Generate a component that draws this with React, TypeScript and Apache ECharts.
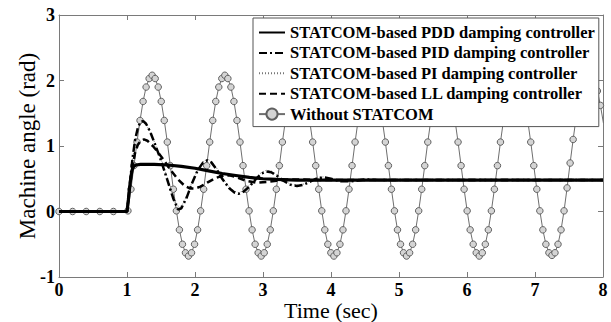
import React, { useEffect, useRef } from "react";
import * as echarts from "echarts";

const FONT = "Liberation Serif";

const seriesNames = [
  "STATCOM-based PDD damping controller",
  "STATCOM-based PID damping controller",
  "STATCOM-based PI damping controller",
  "STATCOM-based LL damping controller",
  "Without STATCOM",
];

const xTicks = [0, 1, 2, 3, 4, 5, 6, 7, 8];
const yTicks = [-1, 0, 1, 2, 3];

// PDD controller
const pddT = [0, 1.0, 1.02, 1.04, 1.06, 1.08, 1.1, 1.13, 1.2, 1.4, 1.6, 1.8, 2.0, 2.2, 2.4, 2.6, 2.8, 3.0, 3.2, 3.5, 4.0, 5.0, 6.0, 7.0, 8.0];
const pddV = [0, 0, 0.18, 0.38, 0.55, 0.65, 0.69, 0.71, 0.72, 0.72, 0.71, 0.69, 0.66, 0.62, 0.58, 0.55, 0.52, 0.5, 0.49, 0.48, 0.48, 0.48, 0.48, 0.48, 0.48];

// PID and PI controllers (same sample times)
const pidT = [0, 1.0, 1.04, 1.08, 1.12, 1.16, 1.2, 1.24, 1.28, 1.34, 1.4, 1.5, 1.6, 1.68, 1.75, 1.8, 1.88, 1.96, 2.04, 2.12, 2.18, 2.24, 2.32, 2.4, 2.5, 2.58, 2.64, 2.7, 2.8, 2.9, 2.98, 3.05, 3.12, 3.2, 3.3, 3.4, 3.5, 3.6, 3.7, 3.8, 3.9, 4.0, 4.15, 4.3, 4.5, 4.7, 5.0, 8.0];
const pidV = [0, 0, 0.4, 0.8, 1.1, 1.28, 1.37, 1.38, 1.34, 1.22, 1.06, 0.78, 0.46, 0.2, 0.03, 0.05, 0.22, 0.44, 0.63, 0.75, 0.78, 0.75, 0.64, 0.5, 0.36, 0.29, 0.27, 0.29, 0.38, 0.5, 0.58, 0.61, 0.6, 0.55, 0.47, 0.41, 0.39, 0.41, 0.46, 0.51, 0.52, 0.5, 0.46, 0.46, 0.49, 0.48, 0.48, 0.48];
const piV = [0, 0, 0.38, 0.78, 1.08, 1.26, 1.35, 1.37, 1.33, 1.22, 1.07, 0.8, 0.5, 0.25, 0.08, 0.08, 0.24, 0.46, 0.64, 0.76, 0.8, 0.77, 0.66, 0.52, 0.38, 0.31, 0.29, 0.31, 0.4, 0.52, 0.6, 0.63, 0.62, 0.56, 0.48, 0.42, 0.4, 0.42, 0.47, 0.52, 0.53, 0.5, 0.46, 0.47, 0.49, 0.48, 0.48, 0.48];

// LL controller
const llT = [0, 1.0, 1.04, 1.08, 1.12, 1.16, 1.2, 1.25, 1.3, 1.38, 1.46, 1.55, 1.65, 1.75, 1.85, 1.93, 2.0, 2.08, 2.18, 2.3, 2.42, 2.52, 2.62, 2.75, 2.9, 3.05, 3.2, 3.4, 3.6, 3.8, 4.0, 8.0];
const llV = [0, 0, 0.35, 0.68, 0.9, 1.02, 1.08, 1.1, 1.08, 1.0, 0.9, 0.77, 0.62, 0.49, 0.39, 0.35, 0.35, 0.38, 0.44, 0.51, 0.55, 0.55, 0.52, 0.47, 0.44, 0.45, 0.47, 0.49, 0.49, 0.48, 0.48, 0.48];

// Without STATCOM: pre-fault samples, then samples every 0.04454 s from t = 1.0136
const woPreT = [0, 0.2, 0.4, 0.6, 0.8];
const woPreV = [0, 0, 0, 0, 0];
const woStart = 1.0136;
const woStep = 0.04454;
const woV = [
  0.01, 0.34, 0.70, 1.06, 1.39, 1.68, 1.90, 2.03,
  2.08, 2.03, 1.90, 1.68, 1.39, 1.06, 0.70, 0.34, 0.01, -0.28, -0.50, -0.63, -0.68, -0.63, -0.50, -0.28, 0.01, 0.34, 0.70, 1.06, 1.39, 1.68, 1.90, 2.03,
  2.08, 2.03, 1.90, 1.68, 1.39, 1.06, 0.70, 0.34, 0.01, -0.28, -0.50, -0.63, -0.68, -0.63, -0.50, -0.28, 0.01, 0.34, 0.70, 1.06, 1.39, 1.68, 1.90, 2.03,
  2.08, 2.03, 1.90, 1.68, 1.39, 1.06, 0.70, 0.34, 0.01, -0.28, -0.50, -0.63, -0.68, -0.63, -0.50, -0.28, 0.01, 0.34, 0.70, 1.06, 1.39, 1.68, 1.90, 2.03,
  2.08, 2.03, 1.90, 1.68, 1.39, 1.06, 0.70, 0.34, 0.01, -0.28, -0.50, -0.63, -0.68, -0.63, -0.50, -0.28, 0.01, 0.34, 0.70, 1.06, 1.39, 1.68, 1.90, 2.03,
  2.08, 2.03, 1.90, 1.68, 1.39, 1.06, 0.70, 0.34, 0.01, -0.28, -0.50, -0.63, -0.68, -0.63, -0.50, -0.28, 0.01, 0.34, 0.70, 1.06, 1.39, 1.68, 1.90, 2.03,
  2.08, 2.03, 1.90, 1.68, 1.39, 1.06, 0.70, 0.34, 0.01, -0.28, -0.50, -0.63, -0.67, -0.63, -0.50, -0.28, 0.01, 0.36, 0.74, 1.10, 1.44, 1.72, 1.93, 2.05,
  2.08, 2.05, 1.95, 1.84, 1.62, 1.35,
];

const zip = (t: number[], v: number[]) => t.map((x, i) => [x, v[i]]);

const AXIS_COLOR = "#7a7a7a";

function buildOption() {
  const woData = [
    ...zip(woPreT, woPreV),
    ...woV.map((v, i) => [woStart + i * woStep, v]),
  ];
  const tick = { show: true, inside: true, length: 5, lineStyle: { color: AXIS_COLOR } };
  const line = { show: true, onZero: false, lineStyle: { color: AXIS_COLOR, width: 1 } };
  const axisCommonX = {
    type: "value" as const,
    min: xTicks[0],
    max: xTicks[xTicks.length - 1],
    interval: 1,
    splitLine: { show: false },
    axisLine: line,
    axisTick: tick,
  };
  const axisCommonY = {
    type: "value" as const,
    min: yTicks[0],
    max: yTicks[yTicks.length - 1],
    interval: 1,
    splitLine: { show: false },
    axisLine: line,
    axisTick: tick,
  };
  const hideSym = { opacity: 0 };
  return {
    animation: false,
    backgroundColor: "#fff",
    textStyle: { fontFamily: FONT },
    grid: { left: 59, right: 8, top: 15, bottom: 45, containLabel: false, outerBoundsMode: "none" },
    legend: {
      orient: "vertical",
      left: 253,
      top: 18,
      padding: [6, 4, 4, 5],
      itemGap: 3.4,
      itemWidth: 26,
      itemHeight: 14,
      backgroundColor: "#fff",
      borderColor: "#555",
      borderWidth: 1,
      borderRadius: 0,
      data: [
        { name: seriesNames[0], itemStyle: hideSym },
        { name: seriesNames[1], itemStyle: hideSym },
        { name: seriesNames[2], itemStyle: hideSym },
        { name: seriesNames[3], itemStyle: hideSym },
        { name: seriesNames[4] },
      ],
      textStyle: { fontFamily: FONT, fontWeight: "bold", fontSize: 16.5, color: "#000" },
      z: 10,
    },
    xAxis: [
      {
        ...axisCommonX,
        position: "bottom",
        axisLabel: { show: true, margin: 5, color: "#000", fontFamily: FONT, fontWeight: "bold", fontSize: 18, lineHeight: 16 },
        name: "Time (sec)",
        nameLocation: "middle",
        nameGap: 23,
        nameMoveOverlap: false,
        nameTextStyle: { fontFamily: FONT, fontSize: 22, lineHeight: 20, color: "#000" },
      },
      { ...axisCommonX, position: "top", axisLabel: { show: false } },
    ],
    yAxis: [
      {
        ...axisCommonY,
        position: "left",
        axisLabel: { show: true, margin: 4, color: "#000", fontFamily: FONT, fontWeight: "bold", fontSize: 18 },
        name: "Machine angle (rad)",
        nameLocation: "middle",
        nameRotate: 90,
        nameGap: 20,
        nameMoveOverlap: false,
        nameTextStyle: { fontFamily: FONT, fontSize: 23, color: "#000" },
      },
      { ...axisCommonY, position: "right", axisLabel: { show: false } },
    ],
    series: [
      {
        name: seriesNames[4],
        type: "line",
        data: woData,
        z: 1,
        symbol: "circle",
        symbolSize: 6.5,
        showAllSymbol: true,
        lineStyle: { color: "#6e6e6e", width: 1 },
        itemStyle: { color: "#d4d4d4", borderColor: "#606060", borderWidth: 1 },
      },
      {
        name: seriesNames[2],
        type: "line",
        data: zip(pidT, piV),
        z: 2,
        symbol: "none",
        lineStyle: { color: "#777", width: 1, type: [1, 2] },
        itemStyle: { color: "#777" },
      },
      {
        name: seriesNames[3],
        type: "line",
        data: zip(llT, llV),
        z: 3,
        symbol: "none",
        lineStyle: { color: "#000", width: 2.5, type: [7, 4] },
        itemStyle: { color: "#000" },
      },
      {
        name: seriesNames[1],
        type: "line",
        data: zip(pidT, pidV),
        z: 3,
        symbol: "none",
        lineStyle: { color: "#000", width: 2.5, type: [8, 3, 2, 3] },
        itemStyle: { color: "#000" },
      },
      {
        name: seriesNames[0],
        type: "line",
        data: zip(pddT, pddV),
        z: 4,
        symbol: "none",
        lineStyle: { color: "#000", width: 3.2 },
        itemStyle: { color: "#000" },
      },
    ],
  };
}

export default function App() {
  const ref = useRef<HTMLDivElement>(null);
  useEffect(() => {
    if (!ref.current) return;
    const chart = echarts.init(ref.current, null, { renderer: "svg" });
    chart.setOption(buildOption() as any);
    return () => chart.dispose();
  }, []);
  return (
    <div
      ref={ref}
      style={{ position: "fixed", left: 0, top: 0, width: 611, height: 322, background: "#fff" }}
    />
  );
}
